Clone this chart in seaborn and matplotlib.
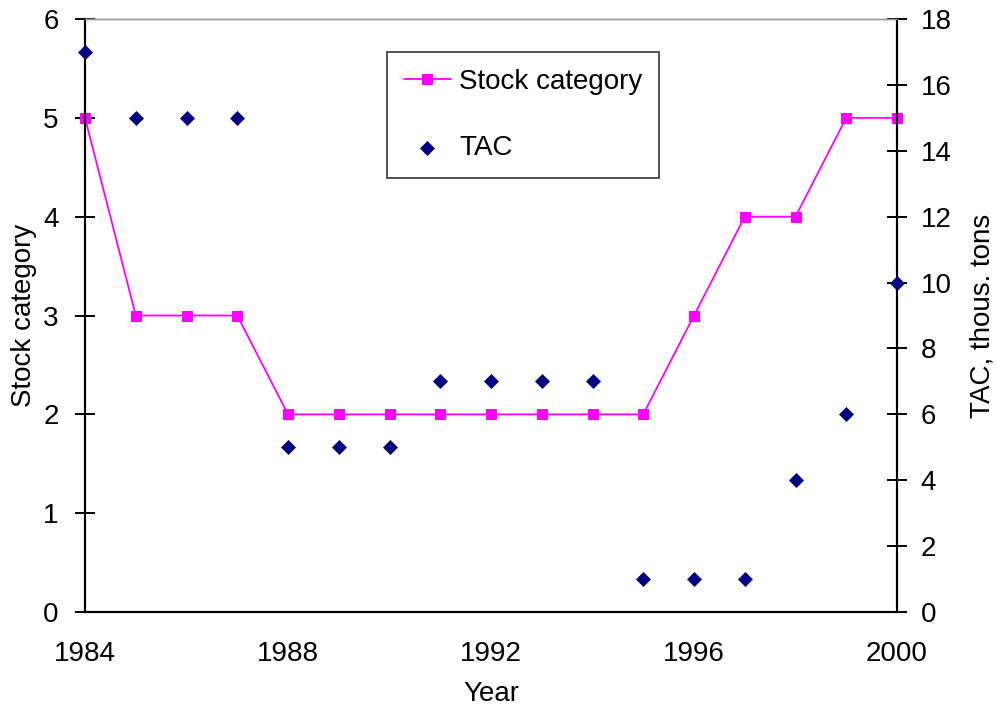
import matplotlib
matplotlib.use("Agg")
import matplotlib.pyplot as plt
import seaborn as sns
import pandas as pd

years = list(range(1984, 2001))
stock_category = [5, 3, 3, 3, 2, 2, 2, 2, 2, 2, 2, 2, 3, 4, 4, 5, 5]
tac = [17, 15, 15, 15, 5, 5, 5, 7, 7, 7, 7, 1, 1, 1, 4, 6, 10]
year_labels = [1984, 1988, 1992, 1996, 2000]

sns.set_style("white")
plt.rcParams["font.family"] = ["Liberation Sans", "DejaVu Sans"]
plt.rcParams["font.size"] = 20
plt.rcParams["text.color"] = "black"
plt.rcParams["axes.labelcolor"] = "black"
plt.rcParams["xtick.color"] = "black"
plt.rcParams["ytick.color"] = "black"

df = pd.DataFrame({"Year": years, "Stock": stock_category, "TAC": tac})

fig = plt.figure(figsize=(9.97, 7.10), dpi=100)
ax = fig.add_axes([0.0853, 0.138, 0.8144, 0.8352])
ax2 = ax.twinx()

sns.lineplot(data=df, x="Year", y="Stock", ax=ax, color="#FF00FF",
             marker="s", markersize=7.5, markeredgecolor="#FF00FF",
             linewidth=1.3, label="Stock category", legend=False)
sns.scatterplot(data=df, x="Year", y="TAC", ax=ax2, marker="D", color="#000080",
                edgecolor="#000080", s=50, label="TAC", legend=False, zorder=3)
for line in ax.lines:
    line.set_clip_on(False)
for coll in ax2.collections:
    coll.set_clip_on(False)

ax.set_xlim(1984, 2000)
ax.set_ylim(0, 6)
ax2.set_ylim(0, 18)
ax.set_xticks(years)
ax.set_xticklabels([str(y) if y in year_labels else "" for y in years])
ax.set_yticks(range(0, 7))
ax2.set_yticks(range(0, 19, 2))

for a in (ax, ax2):
    a.tick_params(direction="inout", length=14, width=1.4, color="black",
                  labelcolor="black", labelsize=20)
    for side in ("left", "right", "bottom"):
        a.spines[side].set_color("black")
        a.spines[side].set_linewidth(1.5)
    a.spines["top"].set_color("#999999")
    a.spines["top"].set_linewidth(1.0)
    a.grid(False)
ax.tick_params(axis="x", pad=14)
ax.tick_params(axis="y", pad=12)
ax2.tick_params(axis="y", pad=10)

ax.set_xlabel("Year", fontsize=20, labelpad=10)
ax.set_ylabel("Stock category", fontsize=20)
ax2.set_ylabel("TAC, thous. tons", fontsize=20)
ax.yaxis.set_label_coords(-0.059, 0.5)
ax2.yaxis.set_label_coords(1.089, 0.5)

h1, l1 = ax.get_legend_handles_labels()
h2, l2 = ax2.get_legend_handles_labels()
leg = ax2.legend(h1 + h2, l1 + l2, loc="upper left",
                 bbox_to_anchor=(0.372, 0.944), borderaxespad=0,
                 frameon=True, fancybox=False, fontsize=20,
                 labelspacing=1.45, handlelength=1.7, handletextpad=0.3,
                 borderpad=0.6)
leg.get_frame().set_edgecolor("black")
leg.get_frame().set_linewidth(1.2)

fig.savefig("out.png", dpi=100, facecolor="white")
